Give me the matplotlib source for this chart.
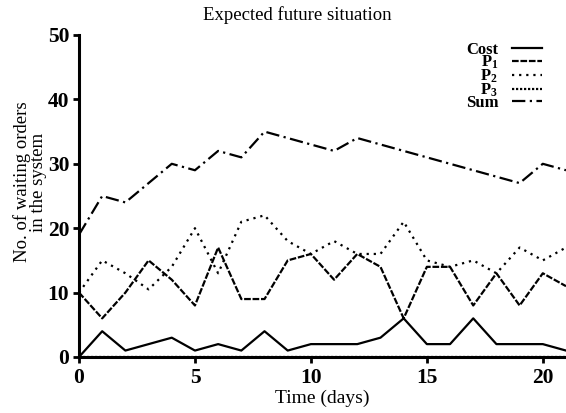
import matplotlib
matplotlib.use("Agg")
import matplotlib.pyplot as plt

# --- data ---
days = list(range(0, 22))
cost = [0, 4, 1, 2, 3, 1, 2, 1, 4, 1, 2, 2, 2, 3, 6, 2, 2, 6, 2, 2, 2, 1]
p1 = [10, 6, 10, 15, 12, 8, 17, 9, 9, 15, 16, 12, 16, 14, 6, 14, 14, 8, 13, 8, 13, 11]
p2 = [10, 15, 13, 10.5, 14, 20, 13, 21, 22, 18, 16, 18, 16, 16, 21, 15, 14, 15, 13, 17, 15, 17]
p3 = [0] * 22
total = [19, 25, 24, 27, 30, 29, 32, 31, 35, 34, 33, 32, 34, 33, 32, 31, 30, 29, 28, 27, 30, 29]

series_labels = ["Cost", "P$_1$", "P$_2$", "P$_3$", "Sum"]
x_ticks = [0, 5, 10, 15, 20]
y_ticks = [0, 10, 20, 30, 40, 50]

plt.rcParams["font.family"] = ["Liberation Serif", "DejaVu Serif"]
plt.rcParams["mathtext.fontset"] = "custom"
plt.rcParams["mathtext.rm"] = "Liberation Serif:bold"
plt.rcParams["mathtext.it"] = "Liberation Serif:bold"

fig = plt.figure(figsize=(5.66, 4.13), dpi=100)
ax = fig.add_axes([79 / 566, 56 / 413, 1 - 79 / 566, (357 - 35) / 413])

lw = 1.6
ax.plot(days, cost, color="black", lw=lw, linestyle="-", label=series_labels[0])
ax.plot(days, p1, color="black", lw=lw, linestyle=(0, (3, 0.8)), label=series_labels[1])
ax.plot(days, p2, color="black", lw=lw, linestyle=(0, (1, 2.2)), label=series_labels[2])
ax.plot(days, p3, color="black", lw=lw, linestyle=(0, (1, 0.8)), label=series_labels[3])
ax.plot(days, total, color="black", lw=lw, linestyle=(0, (6, 2, 1, 2)), label=series_labels[4])

ax.set_xlim(0, 21)
ax.set_ylim(0, 50)
ax.set_xticks(x_ticks)
ax.set_yticks(y_ticks)
for side in ["top", "right"]:
    ax.spines[side].set_visible(False)
for side in ["left", "bottom"]:
    ax.spines[side].set_linewidth(2.2)
ax.tick_params(axis="both", direction="out", length=4, width=2, labelsize=15.5)
ax.tick_params(axis="x", pad=4)
ax.tick_params(axis="y", pad=3)
for lab in ax.get_xticklabels() + ax.get_yticklabels():
    lab.set_fontweight("bold")

ax.set_xlabel("Time (days)", fontsize=14, labelpad=1)
fig.text(30 / 566, 1 - 182 / 413, "No. of waiting orders\nin the system",
         rotation=90, ha="center", va="center", fontsize=13.5, linespacing=0.9)
fig.text(297 / 566, 1 - 15 / 413, "Expected future situation",
         ha="center", va="center", fontsize=13.5)

# legend rows sit tightly, as in the original
leg = ax.legend(loc="upper right", bbox_to_anchor=(0.965, 1.0), frameon=False,
                markerfirst=False, fontsize=12, labelspacing=-0.22,
                handlelength=1.8, handletextpad=0.85, borderaxespad=0)
for t in leg.get_texts():
    t.set_fontweight("bold")
    t.set_ha("right")

fig.savefig("out.png", dpi=100)
